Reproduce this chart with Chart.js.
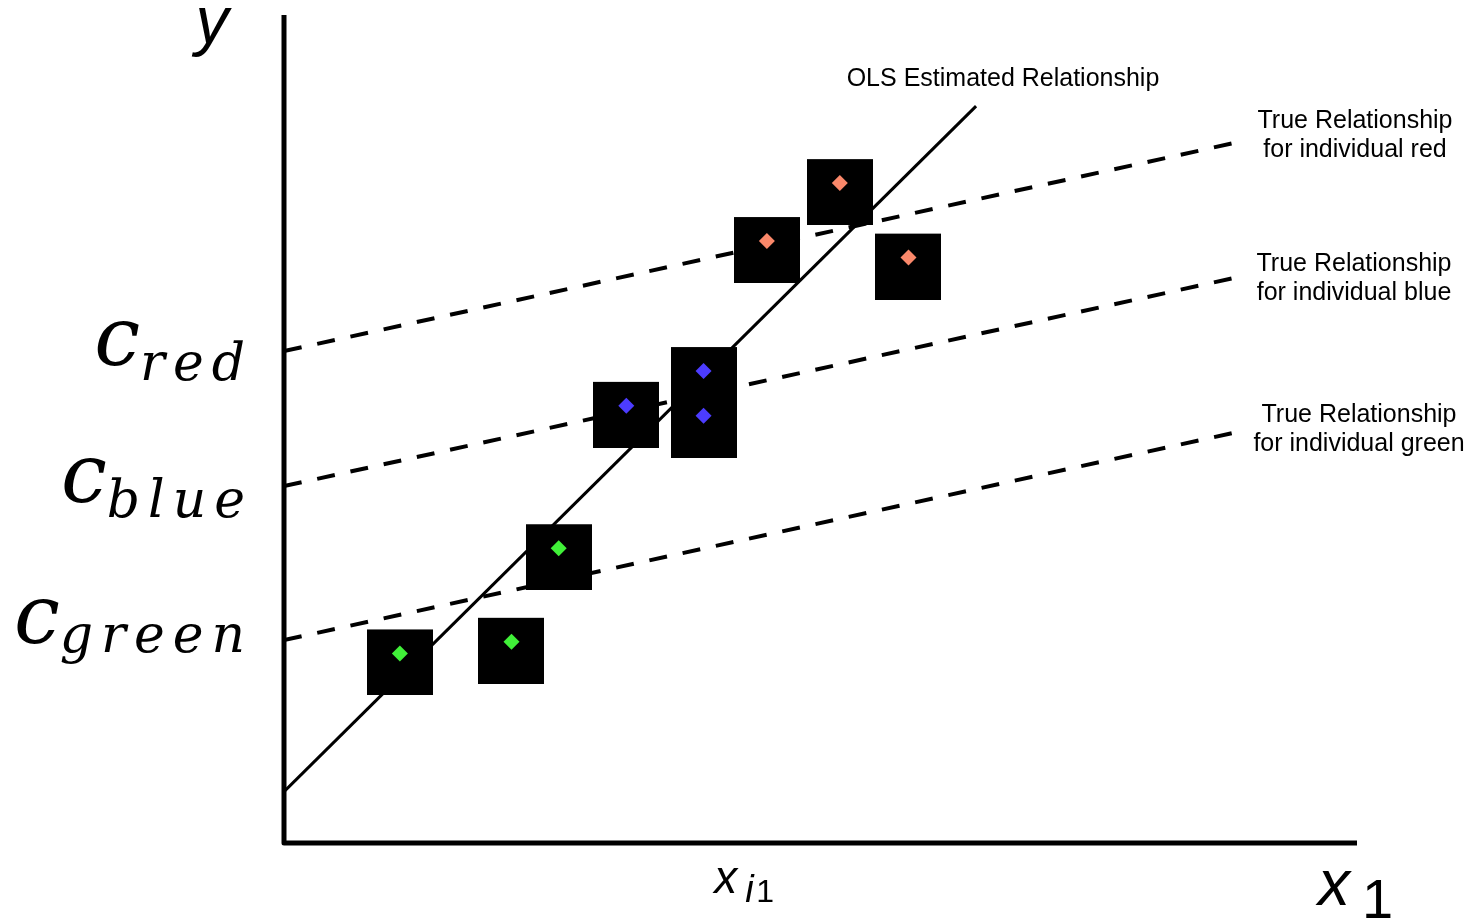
<!DOCTYPE html>
<html>
<head>
<meta charset="utf-8">
<title>Fixed effects: OLS vs true relationships</title>
<script src="https://cdn.jsdelivr.net/npm/chart.js@4.4.1/dist/chart.umd.min.js"></script>
<style>
  html, body { margin: 0; padding: 0; background: #fff; }
  #wrap { width: 1472px; height: 918px; }
</style>
</head>
<body>
<div id="wrap"><canvas id="fe" width="1472" height="918"></canvas></div>
<script>
// observations for each individual (x1, y)
const greenX = [10.8, 21.2, 25.6];
const greenY = [22.9, 24.3, 35.6];
const blueX = [31.9, 39.1, 39.1];
const blueY = [52.8, 57.0, 51.6];
const redX = [45.0, 51.8, 58.2];
const redY = [72.7, 79.7, 70.7];

// true relationships (same slope, own intercept) - endpoints
const trueLineX = [0, 88.4];
const redLineY = [59.4, 84.5];
const blueLineY = [43.1, 68.2];
const greenLineY = [24.5, 49.5];

// pooled OLS line - endpoints
const olsX = [0, 64.5];
const olsY = [6.2, 89.0];

// x value marked on the axis
const xTick = 42.7;

const pts = (xs, ys) => xs.map((x, i) => ({ x: x, y: ys[i] }));

// black box behind each diamond, sitting a little below the point
function makeBox() {
  const c = document.createElement('canvas');
  c.width = 66;
  c.height = 84;
  const g = c.getContext('2d');
  g.fillStyle = '#000';
  g.fillRect(0, 18, 66, 66);
  return c;
}
const box = makeBox();

const colors = {
  green: 'rgb(64, 240, 56)',
  blue: 'rgb(76, 60, 255)',
  red: 'rgb(250, 136, 106)'
};

function boxSet(xs, ys) {
  return {
    type: 'scatter', data: pts(xs, ys), order: 2,
    pointStyle: box, pointRadius: 33, pointHoverRadius: 33
  };
}
function dotSet(xs, ys, col) {
  return {
    type: 'scatter', data: pts(xs, ys), order: 1,
    pointStyle: 'rectRot', pointRadius: 8, pointHoverRadius: 8,
    backgroundColor: col, borderWidth: 0
  };
}
function dashSet(ys) {
  return {
    type: 'line', data: pts(trueLineX, ys), order: 3,
    borderColor: '#000', borderWidth: 4, borderDash: [18, 16],
    pointRadius: 0, fill: false, tension: 0
  };
}

// axes, axis names and annotations
const annotate = {
  id: 'annotate',
  afterDraw(chart) {
    const ctx = chart.ctx;
    const xs = chart.scales.x, ys = chart.scales.y;
    const x0 = xs.getPixelForValue(0), y0 = ys.getPixelForValue(0);
    ctx.save();

    ctx.strokeStyle = '#000';
    ctx.lineWidth = 5;
    ctx.lineJoin = 'round';
    ctx.beginPath();
    ctx.moveTo(x0, ys.top);
    ctx.lineTo(x0, y0);
    ctx.lineTo(xs.right, y0);
    ctx.stroke();

    ctx.fillStyle = '#000';
    ctx.textBaseline = 'alphabetic';

    // y
    ctx.textAlign = 'center';
    ctx.font = 'italic 66px "Liberation Sans", Arial, sans-serif';
    ctx.fillText('y', 212, 43);

    // x1
    ctx.textAlign = 'left';
    ctx.font = 'italic 64px "Liberation Sans", Arial, sans-serif';
    ctx.fillText('x', 1318, 905);
    ctx.font = '56px "Liberation Sans", Arial, sans-serif';
    ctx.fillText('1', 1362, 918);

    // x_i1 under the axis
    const xt = xs.getPixelForValue(xTick);
    ctx.font = 'italic 46px "Liberation Sans", Arial, sans-serif';
    ctx.fillText('x', xt - 28, 893);
    ctx.font = 'italic 38px "Liberation Sans", Arial, sans-serif';
    ctx.fillText('i', xt + 3, 902);
    ctx.font = '32px "Liberation Sans", Arial, sans-serif';
    ctx.fillText('1', xt + 14, 902);

    // intercept labels
    const cLabels = [
      { sub: 'red', y: redLineY[0], dc: 14, ds: 29 },
      { sub: 'blue', y: blueLineY[0], dc: 16, ds: 31 },
      { sub: 'green', y: greenLineY[0], dc: 3, ds: 12 }
    ];
    const cFont = 'italic 82px "DejaVu Serif", serif';
    const sFont = 'italic 52px "DejaVu Serif", serif';
    cLabels.forEach(l => {
      const py = ys.getPixelForValue(l.y);
      ctx.font = cFont;
      const wc = ctx.measureText('c').width;
      ctx.font = sFont;
      ctx.letterSpacing = '8px';
      const ws = ctx.measureText(l.sub).width - 8;
      const left = 245 - wc - ws;
      ctx.fillText(l.sub, left + wc, py + l.ds);
      ctx.letterSpacing = '0px';
      ctx.font = cFont;
      ctx.fillText('c', left, py + l.dc);
    });

    // line captions
    ctx.textAlign = 'center';
    ctx.font = '25px "Liberation Sans", Arial, sans-serif';
    ctx.fillText('OLS Estimated Relationship', 1003, 86);
    const caps = [
      ['True Relationship', 'for individual red', 1355, 128],
      ['True Relationship', 'for individual blue', 1354, 271],
      ['True Relationship', 'for individual green', 1359, 422]
    ];
    caps.forEach(c => {
      ctx.fillText(c[0], c[2], c[3]);
      ctx.fillText(c[1], c[2], c[3] + 29);
    });
    ctx.restore();
  }
};

const ctx = document.getElementById('fe').getContext('2d');
const feChart = new Chart(ctx, {
  data: {
    datasets: [
      dotSet(greenX, greenY, colors.green),
      dotSet(blueX, blueY, colors.blue),
      dotSet(redX, redY, colors.red),
      boxSet(greenX, greenY),
      boxSet(blueX, blueY),
      boxSet(redX, redY),
      dashSet(redLineY),
      dashSet(blueLineY),
      dashSet(greenLineY),
      {
        type: 'line', data: pts(olsX, olsY), order: 4,
        borderColor: '#000', borderWidth: 3, pointRadius: 0, fill: false
      }
    ]
  },
  options: {
    responsive: false,
    devicePixelRatio: 1,
    animation: false,
    layout: { autoPadding: false, padding: { left: 284, right: 115, top: 15, bottom: 75 } },
    plugins: { legend: { display: false }, tooltip: { enabled: false } },
    scales: {
      x: { type: 'linear', min: 0, max: 100, display: false },
      y: { type: 'linear', min: 0, max: 100, display: false }
    }
  },
  plugins: [annotate]
});
</script>
</body>
</html>
